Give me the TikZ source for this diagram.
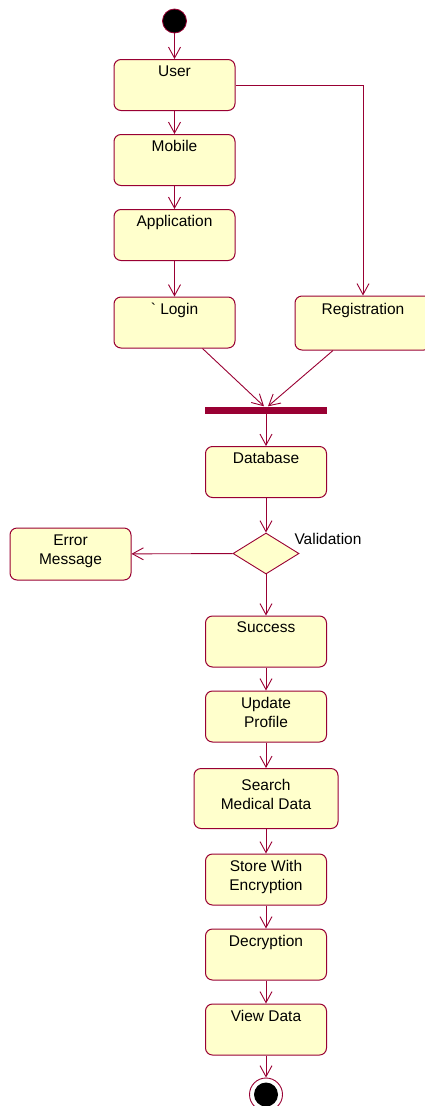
\documentclass[tikz,border=0pt]{standalone}
\usepackage{fontspec}
\setmainfont{Liberation Sans}
\usetikzlibrary{arrows.meta}
\usetikzlibrary{shapes.geometric}
\definecolor{umlred}{RGB}{153,0,51}
\definecolor{umlfill}{RGB}{255,255,204}

\begin{document}
\begin{tikzpicture}[x=1pt, y=-1pt,
  font=\fontsize{15.5}{19}\selectfont,
  flow/.style={draw=umlred, line width=0.9pt, -{Straight Barb[length=11pt,width=12pt]}},
  activity/.style={draw=umlred, fill=umlfill, line width=1pt, rounded corners=7pt,
    minimum width=121pt, minimum height=51pt, inner sep=0pt,
    execute at begin node={\begin{minipage}[c][39pt][t]{118pt}\centering},
    execute at end node={\end{minipage}}},
  startstate/.style={circle, draw=umlred, fill=black, line width=0.8pt, minimum size=24pt, inner sep=0pt},
  endstate/.style={circle, draw=umlred, fill=white, line width=0.9pt, minimum size=33pt, inner sep=0pt},
  syncbar/.style={fill=umlred, minimum width=122pt, minimum height=7pt, inner sep=0pt},
  decision/.style={diamond, draw=umlred, fill=umlfill, line width=0.9pt, minimum width=66pt, minimum height=41pt, inner sep=0pt}
]
\useasboundingbox (0,0) rectangle (425,1106);

\node[startstate] (start) at (174.5,21) {};
\node[activity] (user) at (174.5,85) {User};
\node[activity] (mobile) at (174.5,160) {Mobile};
\node[activity] (app) at (174.5,235) {Application};
\node[activity] (login) at (174.5,322.5) {\textasciigrave\ Login};
\node[activity, minimum width=136pt, minimum height=54pt] (reg) at (363,323) {Registration};
\node[syncbar] (join) at (266,410) {};
\node[activity] (db) at (266,472) {Database};
\node[decision] (check) at (266,553.5) {};
\node[anchor=base west] (checklabel) at (291,544) {Validation};
\node[activity, minimum height=52pt] (err) at (70.5,554) {Error\\Message};
\node[activity] (success) at (266,641.5) {Success};
\node[activity] (update) at (266,716.5) {Update\\Profile};
\node[activity, minimum width=144pt, minimum height=60pt] (search) at (266,798.5) {Search\\Medical Data};
\node[activity] (store) at (266,879.5) {Store With\\Encryption};
\node[activity] (decrypt) at (266,954.5) {Decryption};
\node[activity] (view) at (266,1029.5) {View Data};
\node[endstate] (finish) at (266,1094.5) {};
\fill[black] (finish.center) circle [radius=12pt];

\draw[flow] (start) -- (user);
\draw[flow] (user) -- (mobile);
\draw[flow] (mobile) -- (app);
\draw[flow] (app) -- (login);
\draw[flow] (user.east) -| (reg.north);
\draw[flow] ([xshift=28pt]login.south) -- ([xshift=-2pt]join.north);
\draw[flow] ([xshift=-30pt]reg.south) -- ([xshift=2pt]join.north);
\draw[flow] (join) -- (db);
\draw[flow] (db) -- (check);
\draw[flow] (check) -- (err);
\draw[flow] (check) -- (success);
\draw[flow] (success) -- (update);
\draw[flow] (update) -- (search);
\draw[flow] (search) -- (store);
\draw[flow] (store) -- (decrypt);
\draw[flow] (decrypt) -- (view);
\draw[flow] (view) -- (finish);
\end{tikzpicture}
\end{document}
